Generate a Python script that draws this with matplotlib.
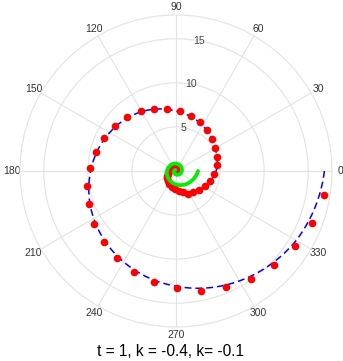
import numpy as np
import matplotlib
matplotlib.use('Agg')
import matplotlib.pyplot as plt

plt.rcParams['font.family'] = ['Liberation Sans', 'DejaVu Sans']

# observed points (angle in degrees, radius)
pts_deg = [350.7, 339.2, 327.7, 316.2, 304.9, 293.3, 281.9, 270.3, 258.7, 247.4,
           235.8, 224.5, 212.9, 201.0, 189.5, 178.2, 166.6, 155.1, 143.6, 132.4,
           120.5, 109.3, 98.0, 86.5, 75.0, 63.9, 52.5, 41.5, 30.4, 19.0,
           7.7, -4.2, -15.9, -27.3, -39.2, -50.9, -61.1, -71.0, -82.5, -94.0,
           -105.5, -117.0, -128.5, -140.0, -151.5, -163.0, -174.5, -186.0, -197.5, -209.0,
           -220.5, -232.0, -243.5, -255.0, -266.5, -278.0]
pts_r = [17.07, 16.50, 15.96, 15.40, 14.90, 14.35, 13.86, 13.33, 12.86, 12.38,
         11.93, 11.48, 11.02, 10.61, 10.20, 9.76, 9.36, 8.95, 8.61, 8.25,
         7.87, 7.50, 7.15, 6.83, 6.47, 6.15, 5.81, 5.42, 5.12, 4.87,
         4.65, 4.33, 4.04, 3.73, 3.44, 3.14, 2.92, 2.58, 2.32, 2.08,
         1.86, 1.65, 1.46, 1.29, 1.13, 0.99, 0.86, 0.74, 0.63, 0.54,
         0.45, 0.38, 0.31, 0.25, 0.20, 0.16]

# fitted spiral, k = -0.4
fit_deg = [360, 330, 300, 270, 240, 210, 180, 150, 120, 90, 60, 30,
           0, -30, -60, -90, -120, -150, -180, -210, -240, -270, -300, -330, -360]
fit_r = [16.84, 15.75, 14.40, 13.07, 11.90, 10.78, 9.68, 8.70, 7.78, 6.80, 6.00, 5.15,
         4.55, 3.62, 2.90, 2.20, 1.60, 1.15, 0.80, 0.55, 0.38, 0.26, 0.18, 0.12, 0.08]

# second spiral, k = -0.1
sp_deg = [0, -30, -60, -90, -120, -150, -180, -210, -240, -270, -300, -330,
          -360, -390, -420, -450, -480, -510, -540, -570, -600]
sp_r = [2.50, 2.12, 1.80, 1.52, 1.30, 1.13, 1.02, 0.94, 0.88, 0.85, 0.80, 0.74,
        0.67, 0.58, 0.49, 0.41, 0.34, 0.28, 0.23, 0.18, 0.14]

r_ticks = [5, 10, 15]
theta_ticks = list(range(0, 360, 30))

fig = plt.figure(figsize=(3.43, 3.61), dpi=100)
ax = fig.add_axes([0.0583, 0.0942, 0.9096, 0.8643], projection='polar')

fit_line, = ax.plot(np.radians(fit_deg), fit_r, color='#0000ff', lw=1.1,
                    dashes=[4.5, 2.6], zorder=3)
ax.plot(np.radians(pts_deg), pts_r, 'o', color='#ff0000', ms=5.5, mec='none', zorder=4)
sp_line, = ax.plot(np.radians(sp_deg), sp_r, color='#00ee00', lw=2.7,
                   solid_capstyle='round', zorder=5)
# curve the segments between points in polar space, like the grid lines
for ln in (fit_line, sp_line):
    ln.get_path()._interpolation_steps = 40

ax.set_ylim(0, 17.7)
ax.set_rgrids(r_ticks, labels=['' for _ in r_ticks])
for r in r_ticks:
    ax.text(np.radians(80), r, str(r), ha='center', va='center', fontsize=7.5,
            color='#444444', zorder=2)
ax.set_thetagrids(theta_ticks, labels=[str(a) for a in theta_ticks],
                  fontsize=7.5, color='#333333')
ax.tick_params(axis='x', pad=-4.5)
ax.grid(color='#e3e3e3', lw=0.8)
ax.spines['polar'].set_color('#e3e3e3')
ax.spines['polar'].set_linewidth(0.8)

fig.text(0.496, 0.025, 't = 1, k = -0.4, k= -0.1', ha='center', va='center', fontsize=11.2)

fig.savefig('out.png', dpi=100)
